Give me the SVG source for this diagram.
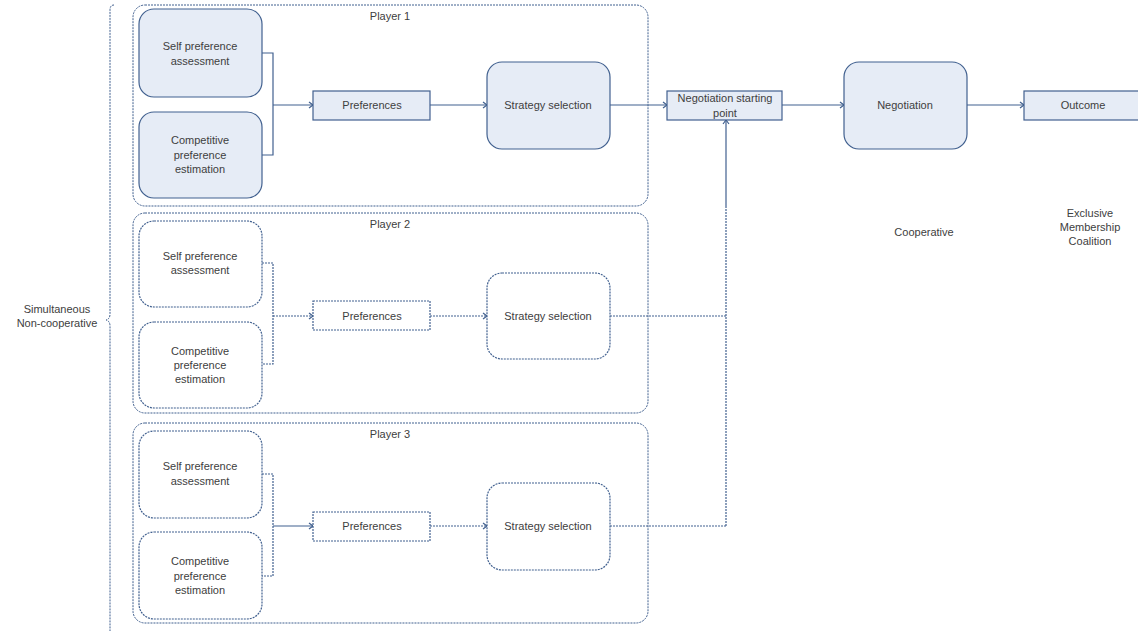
<svg xmlns="http://www.w3.org/2000/svg" width="1138" height="631" viewBox="0 0 1138 631">
<style>
text{font-family:"Liberation Sans",Arial,sans-serif;font-size:11px;fill:#404040;text-anchor:middle}
.solid{fill:#e6ecf6;stroke:#41608f;stroke-width:1.2}
.dash{fill:#fff;stroke:#41608f;stroke-width:1.2;stroke-dasharray:2 1}
.cont{fill:none;stroke:#41608f;stroke-width:1;stroke-dasharray:2 1}
.ln{fill:none;stroke:#41608f;stroke-width:1.2}
.dl{fill:none;stroke:#41608f;stroke-width:1.2;stroke-dasharray:2 1}
</style>
<defs>
<marker id="arr" markerWidth="8" markerHeight="8" refX="6" refY="4" orient="auto" markerUnits="userSpaceOnUse">
<path d="M2,1 L6,4 L2,7" fill="none" stroke="#41608f" stroke-width="1.2"/>
</marker>
</defs>
<rect width="1138" height="631" fill="#fff"/>

<g id="brace">
<path class="cont" d="M114,5 Q110,5 110,10 L110,314 Q110,319 106,320 Q110,321 110,326 L110,631"/>
<text x="57" y="313">Simultaneous</text>
<text x="57" y="327">Non-cooperative</text>
</g>

<g id="player1">
<rect class="cont" x="133" y="5" width="515" height="201" rx="12"/>
<text x="390" y="20">Player 1</text>
</g>
<g id="player2">
<rect class="cont" x="133" y="213" width="515" height="200" rx="12"/>
<text x="390" y="228">Player 2</text>
</g>
<g id="player3">
<rect class="cont" x="133" y="423" width="515" height="200" rx="12"/>
<text x="390" y="438">Player 3</text>
</g>

<g id="connectors">
<path class="ln" d="M262,53 H273 V155 H262"/>
<path class="ln" d="M273,105 H313" marker-end="url(#arr)"/>
<path class="ln" d="M430,105 H487" marker-end="url(#arr)"/>
<path class="ln" d="M610,105 H667" marker-end="url(#arr)"/>
<path class="ln" d="M782,105 H844" marker-end="url(#arr)"/>
<path class="ln" d="M967,105 H1024" marker-end="url(#arr)"/>
<path class="ln" d="M726,206 V120" marker-end="url(#arr)"/>
<path class="dl" d="M726,526 V206"/>

<path class="dl" d="M262,263 H273 V364 H262"/>
<path class="dl" d="M273,316 H313" marker-end="url(#arr)"/>
<path class="dl" d="M430,316 H487" marker-end="url(#arr)"/>
<path class="dl" d="M610,316 H726"/>

<path class="dl" d="M262,474 H273 V576 H262"/>
<path class="ln" d="M273,526 H313" marker-end="url(#arr)"/>
<path class="dl" d="M430,526 H487" marker-end="url(#arr)"/>
<path class="dl" d="M610,526 H726"/>
</g>

<g id="p1-self"><rect class="solid" x="139" y="9" width="123" height="88" rx="15"/>
<text x="200" y="50">Self preference</text><text x="200" y="65">assessment</text></g>
<g id="p1-comp"><rect class="solid" x="139" y="112" width="123" height="86" rx="15"/>
<text x="200" y="144">Competitive</text><text x="200" y="159">preference</text><text x="200" y="173">estimation</text></g>
<g id="p1-pref"><rect class="solid" x="313" y="91" width="117" height="29"/>
<text x="372" y="109">Preferences</text></g>
<g id="p1-strat"><rect class="solid" x="487" y="62" width="123" height="87" rx="15"/>
<text x="548" y="109">Strategy selection</text></g>

<g id="p2-self"><rect class="dash" x="139" y="221" width="123" height="86" rx="15"/>
<text x="200" y="260">Self preference</text><text x="200" y="274">assessment</text></g>
<g id="p2-comp"><rect class="dash" x="139" y="322" width="123" height="86" rx="15"/>
<text x="200" y="355">Competitive</text><text x="200" y="369">preference</text><text x="200" y="383">estimation</text></g>
<g id="p2-pref"><rect class="dash" x="313" y="301" width="117" height="29"/>
<text x="372" y="320">Preferences</text></g>
<g id="p2-strat"><rect class="dash" x="487" y="273" width="123" height="86" rx="15"/>
<text x="548" y="320">Strategy selection</text></g>

<g id="p3-self"><rect class="dash" x="139" y="431" width="123" height="87" rx="15"/>
<text x="200" y="470">Self preference</text><text x="200" y="485">assessment</text></g>
<g id="p3-comp"><rect class="dash" x="139" y="532" width="123" height="87" rx="15"/>
<text x="200" y="565">Competitive</text><text x="200" y="580">preference</text><text x="200" y="594">estimation</text></g>
<g id="p3-pref"><rect class="dash" x="313" y="512" width="117" height="29"/>
<text x="372" y="530">Preferences</text></g>
<g id="p3-strat"><rect class="dash" x="487" y="483" width="123" height="87" rx="15"/>
<text x="548" y="530">Strategy selection</text></g>

<g id="nsp"><rect class="solid" x="667" y="91" width="115" height="29"/>
<text x="725" y="102">Negotiation starting</text><text x="725" y="117">point</text></g>
<g id="negotiation"><rect class="solid" x="844" y="62" width="123" height="87" rx="15"/>
<text x="905" y="109">Negotiation</text></g>
<g id="outcome"><rect class="solid" x="1024" y="91" width="120" height="29"/>
<text x="1083" y="109">Outcome</text></g>

<g id="labels">
<text x="924" y="236">Cooperative</text>
<text x="1090" y="217">Exclusive</text>
<text x="1090" y="231">Membership</text>
<text x="1090" y="245">Coalition</text>
</g>
</svg>
